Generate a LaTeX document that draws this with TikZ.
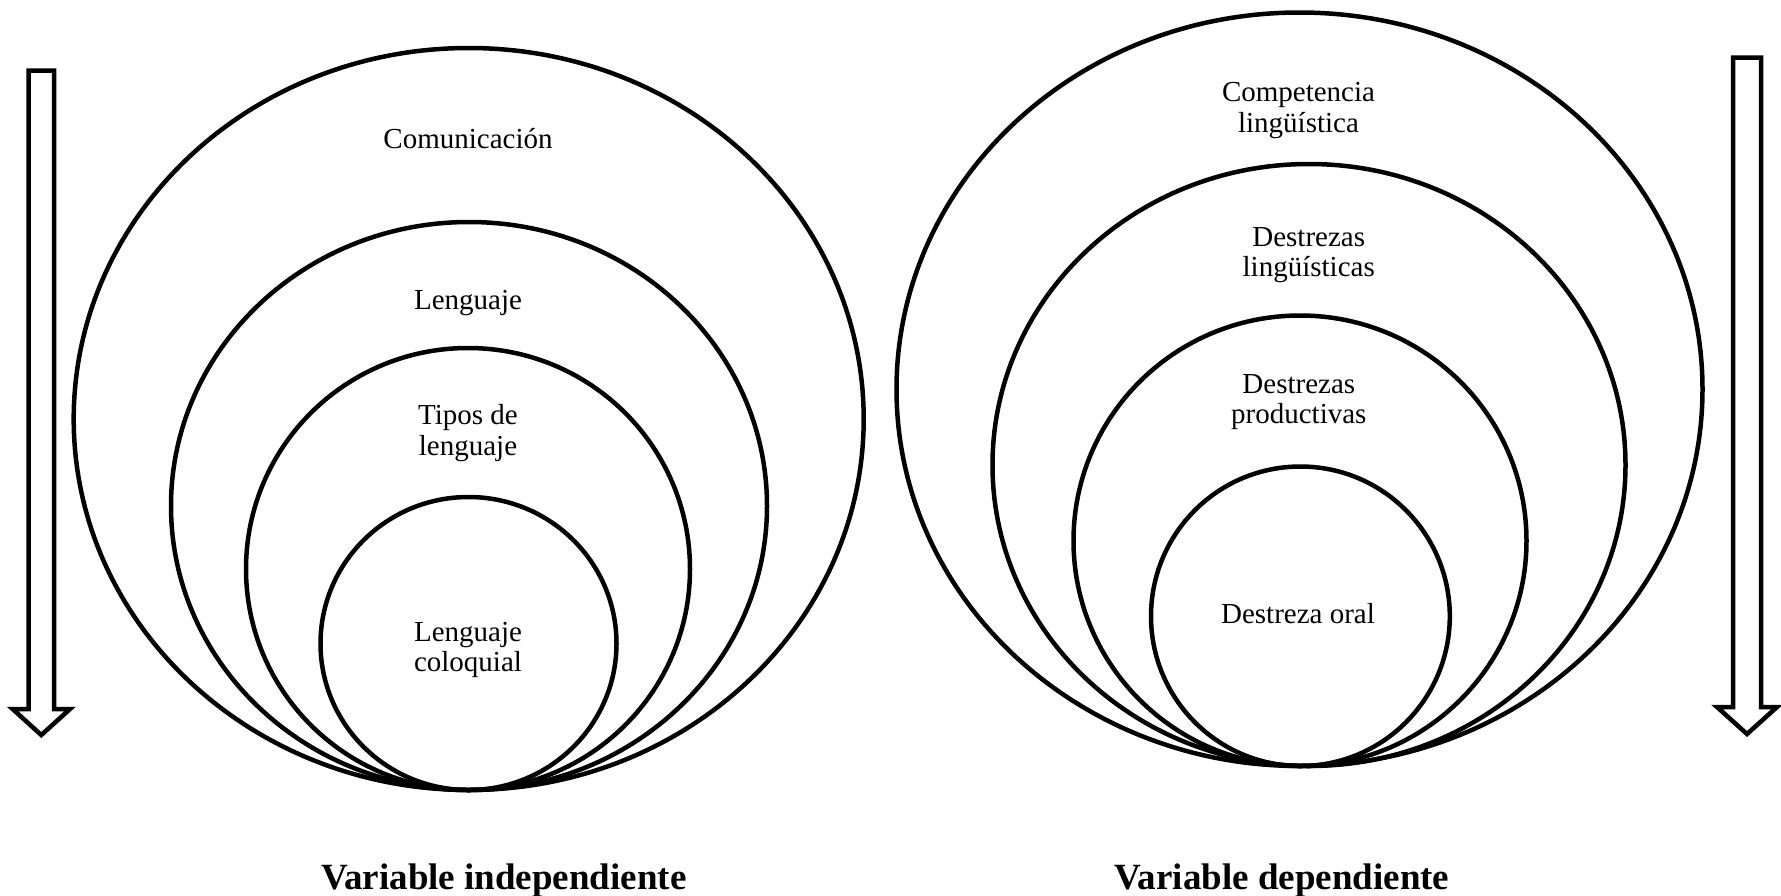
\documentclass[tikz,border=0pt]{standalone}
\usepackage{fontspec}
\setmainfont{Liberation Serif}
\begin{document}
\begin{tikzpicture}[x=1pt,y=-1pt,
  ring/.style={line width=4.5pt},
  bigarrow/.style={line width=4.5pt, miter limit=10},
  lbl/.style={anchor=base, align=center, inner sep=0pt, font=\fontsize{29}{30.5}\selectfont},
  title/.style={anchor=base, inner sep=0pt, font=\fontsize{37}{40}\selectfont\bfseries}]
\useasboundingbox (0,0) rectangle (1781,895);
% left rings
\draw[ring] (468.7,419) ellipse [x radius=395, y radius=371];
\draw[ring] (469,506) ellipse [x radius=298, y radius=284];
\draw[ring] (468,569) ellipse [x radius=222, y radius=221];
\draw[ring] (468.5,643.5) ellipse [x radius=148, y radius=146.5];
% right rings
\draw[ring] (1299.5,389.25) ellipse [x radius=403, y radius=376.75];
\draw[ring] (1309,465) ellipse [x radius=316.5, y radius=301];
\draw[ring] (1300,540.75) ellipse [x radius=226.5, y radius=225.25];
\draw[ring] (1300.4,616.25) ellipse [x radius=149.4, y radius=149.75];
% labels (multi-line nodes anchored at the baseline of their last line)
\node[lbl] (com) at (468,148) {Comunicación};
\node[lbl] (len) at (468,309) {Lenguaje};
\node[lbl] (tip) at (468,455) {Tipos de\\lenguaje};
\node[lbl] (col) at (468,671.5) {Lenguaje\\coloquial};
\node[lbl] (comp) at (1298.5,132) {Competencia\\lingüística};
\node[lbl] (dl) at (1308.7,276.5) {Destrezas\\lingüísticas};
\node[lbl] (dp) at (1298.8,423.5) {Destrezas\\productivas};
\node[lbl] (do) at (1298,623) {Destreza oral};
\node[title] (vi) at (503.8,889) {Variable independiente};
\node[title] (vd) at (1282,889) {Variable dependiente};
% arrows
\draw[bigarrow] (28.5,70.5) -- (54,70.5) -- (54,709) -- (70,709) -- (41.3,735) -- (12.6,709) -- (28.5,709) -- cycle;
\draw[bigarrow] (1733,57.5) -- (1761,57.5) -- (1761,707) -- (1777,707) -- (1747,734) -- (1717,707) -- (1733,707) -- cycle;
\end{tikzpicture}
\end{document}
